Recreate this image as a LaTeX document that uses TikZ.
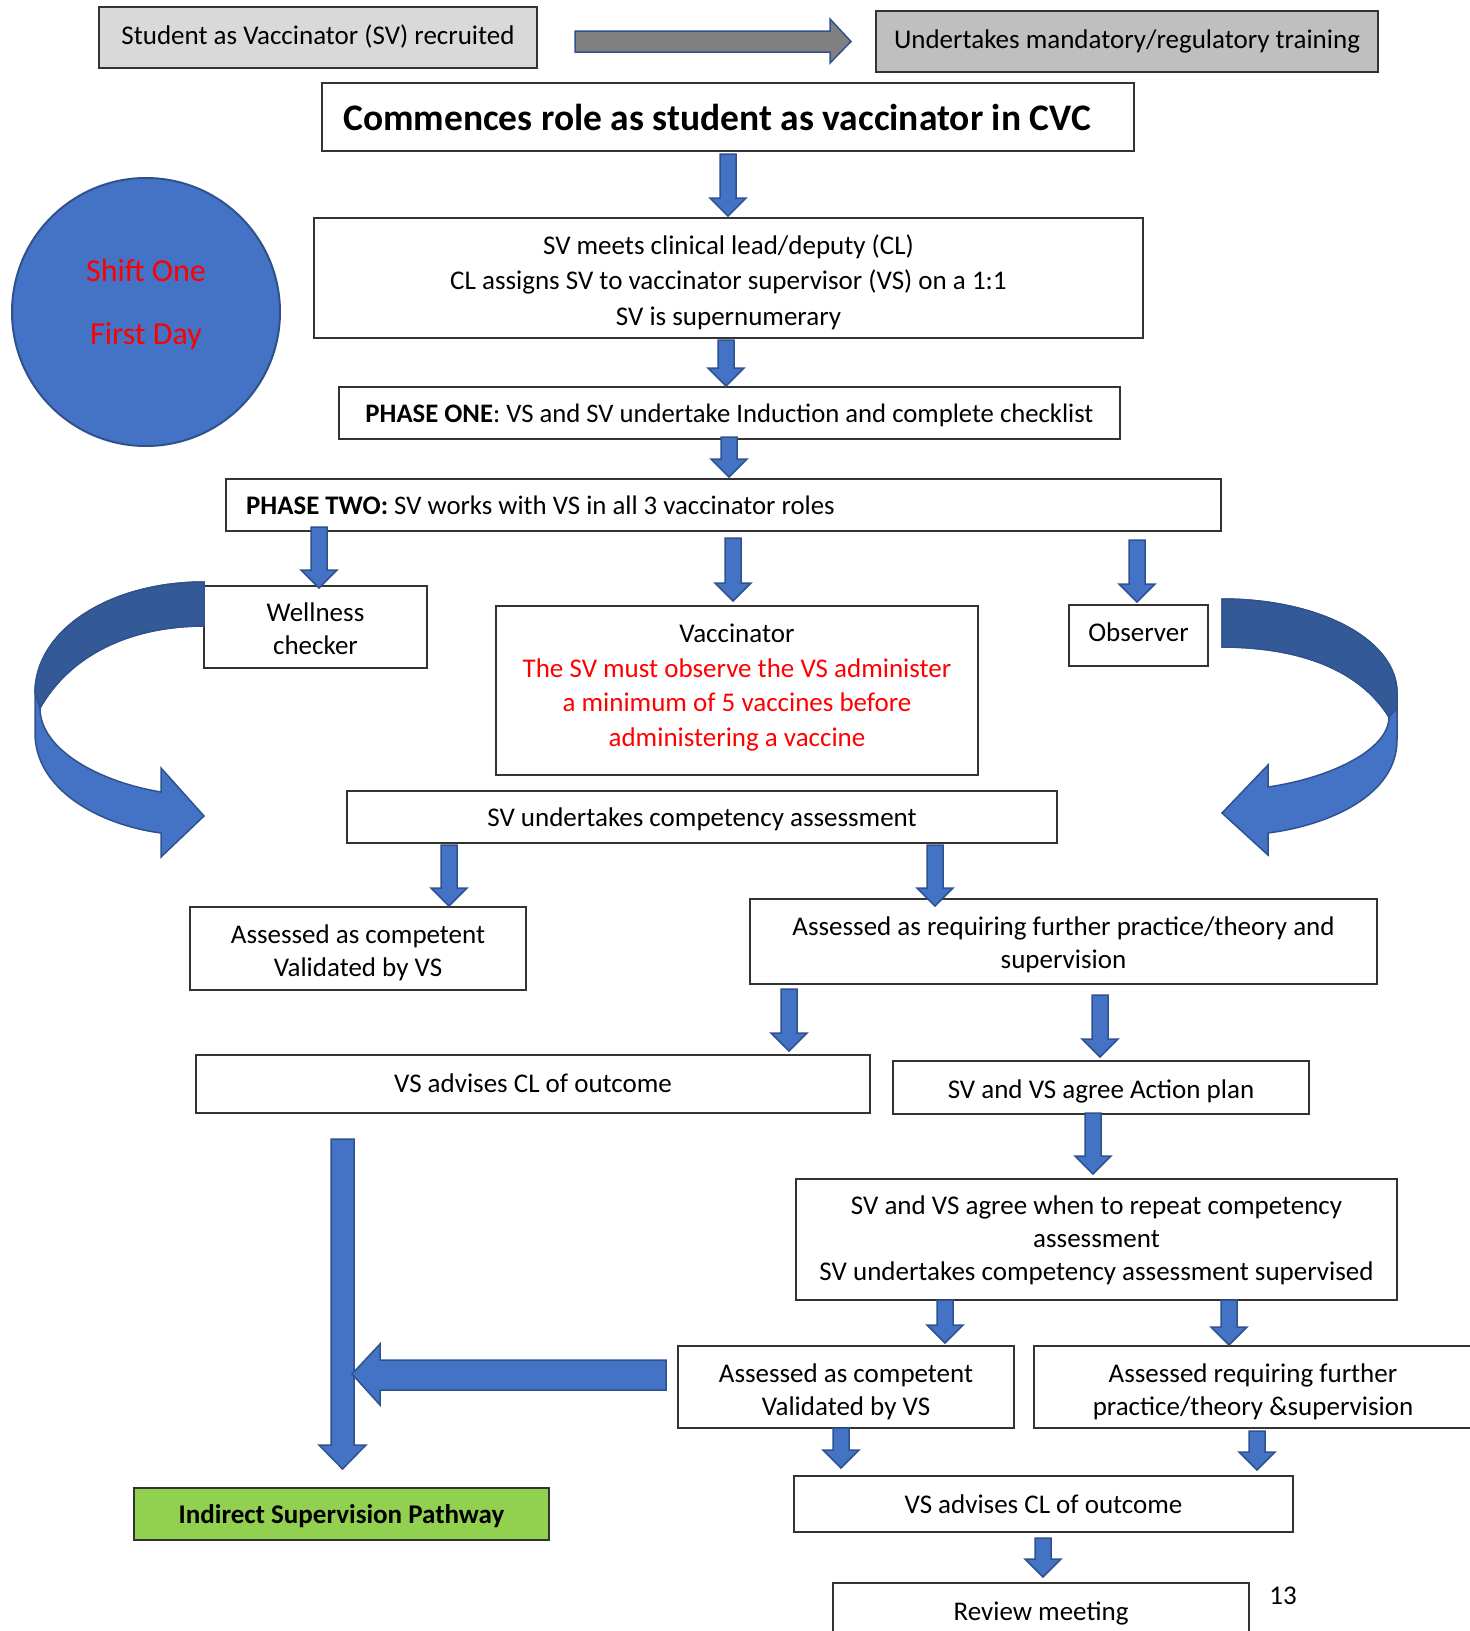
\documentclass[tikz,border=0pt]{standalone}
\usepackage{fontspec}
\setmainfont{Carlito}
\usetikzlibrary{calc}
\definecolor{blu}{HTML}{4472C4}
\definecolor{bluedge}{HTML}{2F528F}
\definecolor{bluedark}{HTML}{335A97}
\definecolor{grn}{HTML}{92D050}
\newcommand\dnarr[3]{\draw[blk] (#1-8,#2) -- (#1+8,#2) -- (#1+8,#3-18) -- (#1+18,#3-18) -- (#1,#3) -- (#1-18,#3-18) -- (#1-8,#3-18) -- cycle;}
\begin{document}
\begin{tikzpicture}[x=1pt,y=-1pt,
  box/.style={draw=black!80, line width=1.5pt, rectangle, inner sep=0pt},
  blk/.style={fill=blu, draw=bluedge, line width=1.5pt},
  txt/.style={inner sep=0pt, align=center, font=\fontsize{27}{33}\selectfont}]
\useasboundingbox (0,0) rectangle (1470,1631);
\fill[white] (0,0) rectangle (1470,1631);

% top row
\node[box, fill=black!15, minimum width=438, minimum height=61] (b1) at (318,37.5) {};
\node[txt] (b1t) at (318,36.5) {Student as Vaccinator (SV) recruited};
\node[box, fill=black!25, minimum width=502, minimum height=61] (b2) at (1127,41.5) {};
\node[txt] (b2t) at (1127,41.5) {Undertakes mandatory/regulatory training};
\draw[fill=black!50, draw=bluedge, line width=1.5pt] (575,31) -- (830,31) -- (830,19) -- (851,41.5) -- (830,63) -- (830,52) -- (575,52) -- cycle;

\node[box, minimum width=812, minimum height=68] (b3) at (728,117) {};
\node[txt, anchor=west, font=\fontsize{37.5}{40}\selectfont\bfseries] (b3t) at (343,117) {Commences role as student as vaccinator in CVC};

% circle
\node[circle, fill=blu, draw=bluedge, line width=2pt, minimum size=268, inner sep=0pt] (circ) at (146,312) {};
\node[txt, text=red, font=\fontsize{32}{63}\selectfont] (circtxt) at (146,304) {Shift One\\First Day};

\node[box, minimum width=829, minimum height=120] (b4) at (728.5,278) {};
\node[txt, font=\fontsize{27}{35.5}\selectfont] (b4t) at (728.5,282) {SV meets clinical lead/deputy (CL)\\CL assigns SV to vaccinator supervisor (VS) on a 1:1\\SV is supernumerary};
\node[box, minimum width=781, minimum height=52] (b5) at (729.5,413) {};
\node[txt, font=\fontsize{26.7}{33}\selectfont] (b5t) at (729.5,415) {\textbf{PHASE ONE}: VS and SV undertake Induction and complete checklist};
\node[box, minimum width=995, minimum height=52] (b6) at (723.5,505) {};
\node[txt, anchor=west, font=\fontsize{26.8}{33}\selectfont] (b6t) at (246,505) {\textbf{PHASE TWO:} SV works with VS in all 3 vaccinator roles};

\node[box, minimum width=223, minimum height=82] (well) at (315.5,627) {};
\node[txt] (wellt) at (315.5,629) {Wellness\\checker};
\node[box, minimum width=482, minimum height=169] (vacc) at (737,690.5) {};
\node[txt, font=\fontsize{27}{34.5}\selectfont] (vacct) at (737,687.5) {Vaccinator\\\textcolor{red}{The SV must observe the VS administer}\\\textcolor{red}{a minimum of 5 vaccines before}\\\textcolor{red}{administering a vaccine}};
\node[box, minimum width=139, minimum height=61] (obs) at (1138.5,635.5) {};
\node[txt] (obst) at (1138.5,632.5) {Observer};

\node[box, minimum width=710, minimum height=52] (comp) at (702,817) {};
\node[txt] (compt) at (702,819) {SV undertakes competency assessment};
\node[box, minimum width=336, minimum height=83] (ac1) at (358,948.5) {};
\node[txt] (ac1t) at (358,952.5) {Assessed as competent\\Validated by VS};
\node[box, minimum width=627, minimum height=85] (ar1) at (1063.5,941.5) {};
\node[txt] (ar1t) at (1063.5,944.5) {Assessed as requiring further practice/theory and\\supervision};
\node[box, minimum width=674, minimum height=58] (vs1) at (533,1084) {};
\node[txt] (vs1t) at (533,1083) {VS advises CL of outcome};
\node[box, minimum width=416, minimum height=53] (ap) at (1101,1087.5) {};
\node[txt] (apt) at (1101,1091.5) {SV and VS agree Action plan};
\node[box, minimum width=601, minimum height=121] (rep) at (1096.5,1239.5) {};
\node[txt] (rept) at (1096.5,1240.5) {SV and VS agree when to repeat competency\\assessment\\SV undertakes competency assessment supervised};
\node[box, minimum width=336, minimum height=82] (ac2) at (846,1387) {};
\node[txt] (ac2t) at (846,1392) {Assessed as competent\\Validated by VS};
\node[box, minimum width=444, minimum height=82] (ar2) at (1256,1387) {};
\node[txt] (ar2t) at (1253,1392) {Assessed requiring further\\practice/theory \&supervision};
\node[box, fill=grn, minimum width=415, minimum height=52] (isp) at (341.5,1514) {};
\node[txt, font=\fontsize{27}{33}\selectfont\bfseries] (ispt) at (341.5,1516) {Indirect Supervision Pathway};
\node[box, minimum width=499, minimum height=56] (vs2) at (1043.5,1504) {};
\node[txt] (vs2t) at (1043.5,1504) {VS advises CL of outcome};
\node[box, minimum width=416, minimum height=57] (rev) at (1041,1611.5) {};
\node[txt] (revt) at (1041,1613.5) {Review meeting};
\node[txt] (pg) at (1283,1596) {13};

% down arrows
\dnarr{728}{154}{216}
\dnarr{726}{340}{386}
\dnarr{729}{437}{477}
\dnarr{319}{527}{588}
\dnarr{733}{538}{601}
\dnarr{1137}{540}{602}
\dnarr{449}{845}{906}
\dnarr{935}{845}{906}
\dnarr{789}{989}{1051}
\dnarr{1100}{995}{1057}
\dnarr{1093}{1113}{1174}
\dnarr{945}{1300}{1343}
\dnarr{1229}{1300}{1345}
\dnarr{841}{1428}{1468}
\dnarr{1257}{1431}{1470}
\dnarr{1043}{1538}{1577}

% long arrow and horizontal arrow
\draw[blk] (331,1139) -- (354,1139) -- (354,1445) -- (366,1445) -- (342.5,1469) -- (319,1445) -- (331,1445) -- cycle;
\draw[blk] (666,1360) -- (380,1360) -- (380,1344) -- (352,1374) -- (380,1405) -- (380,1390) -- (666,1390) -- cycle;

% left curved arrow
\draw[blk] (204,582) .. controls (110,582) and (35,630) .. (35,693) -- (35,733)
  .. controls (35,790) and (100,825) .. (161,833) -- (161,857) -- (204,816) -- (161,768) -- (161,792)
  .. controls (100,782) and (40,750) .. (40,708)
  .. controls (70,655) and (130,626) .. (204,626) -- cycle;
\draw[fill=bluedark, draw=bluedge, line width=1.5pt] (204,582) .. controls (110,582) and (35,630) .. (35,693) -- (40,708)
  .. controls (70,655) and (130,626) .. (204,626) -- cycle;

% right curved arrow
\draw[blk] (1222,599) .. controls (1320,599) and (1397,640) .. (1397,693) -- (1397,740)
  .. controls (1397,795) and (1330,825) .. (1268,833) -- (1268,855) -- (1222,813) -- (1268,765) -- (1268,787)
  .. controls (1330,778) and (1389,750) .. (1389,717)
  .. controls (1360,670) and (1300,647) .. (1222,647) -- cycle;
\draw[fill=bluedark, draw=bluedge, line width=1.5pt] (1222,599) .. controls (1320,599) and (1397,640) .. (1397,693) -- (1397,708) -- (1389,717)
  .. controls (1360,670) and (1300,647) .. (1222,647) -- cycle;
\end{tikzpicture}
\end{document}
